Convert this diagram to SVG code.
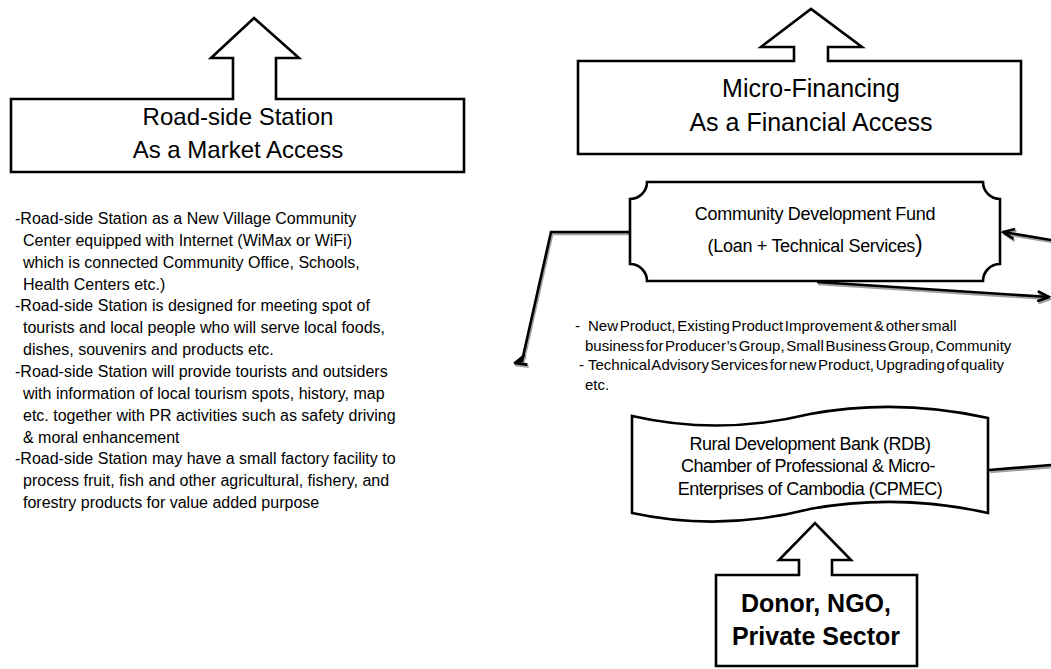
<svg xmlns="http://www.w3.org/2000/svg" width="1051" height="669" viewBox="0 0 1051 669">
  <defs>
    <style>
      .shape{fill:#fff;stroke:#000;stroke-width:2.6;stroke-linejoin:miter}
      .t{font-family:"Liberation Sans",Arial,sans-serif;fill:#000}
      .title{font-size:25px;text-anchor:middle}
      .mid{font-size:18px;text-anchor:middle;letter-spacing:-0.3px}
      .note{font-size:16px}
      .note2{font-size:15px;word-spacing:-2.5px}
      .bold{font-size:25px;font-weight:bold;text-anchor:middle}
      .conn{fill:none;stroke:#000;stroke-width:2.6}
      .shadow{fill:none;stroke:#a0a0a0;stroke-width:2.6}
    </style>
    <marker id="head" viewBox="0 0 14 12" refX="12.5" refY="6" markerWidth="14" markerHeight="12" markerUnits="userSpaceOnUse" orient="auto">
      <path d="M1,1 L12.5,6 L1,11" fill="none" stroke="#000" stroke-width="2.6"/>
    </marker>
    <marker id="headShadow" viewBox="0 0 14 12" refX="12.5" refY="6" markerWidth="14" markerHeight="12" markerUnits="userSpaceOnUse" orient="auto">
      <path d="M1,1 L12.5,6 L1,11" fill="none" stroke="#a0a0a0" stroke-width="2.6"/>
    </marker>
  </defs>

  <rect width="1051" height="669" fill="#fff"/>

  <!-- connectors -->
  <g id="connectors">
    <g transform="translate(1.2,2)">
      <polyline class="shadow" points="630,232 551,232 522,361 515,363" marker-end="url(#headShadow)"/>
      <line class="shadow" x1="1051" y1="240" x2="1003" y2="232" marker-end="url(#headShadow)"/>
      <line class="shadow" x1="817" y1="282" x2="1049" y2="297" marker-end="url(#headShadow)"/>
      <line class="shadow" x1="989" y1="470" x2="1051" y2="465"/>
    </g>
    <polyline class="conn" points="630,232 551,232 522,361 515,363" marker-end="url(#head)"/>
    <line class="conn" x1="1051" y1="240" x2="1003" y2="232" marker-end="url(#head)"/>
    <line class="conn" x1="817" y1="282" x2="1049" y2="297" marker-end="url(#head)"/>
    <line class="conn" x1="989" y1="470" x2="1051" y2="465"/>
  </g>

  <!-- market access box with up arrow -->
  <g id="road-side-station">
    <path class="shape" d="M11,99 H233 V58 H211 L254,18 L299,58 H276 V99 H464 V172 H11 Z"/>
    <text class="t" x="238" y="125" font-size="24" text-anchor="middle">Road-side Station</text>
    <text class="t" x="238" y="158" font-size="24" text-anchor="middle">As a Market Access</text>
  </g>

  <!-- financial access box with up arrow -->
  <g id="micro-financing">
    <path class="shape" d="M578,61 H794 V47 H761 L811,9 L862,47 H828 V61 H1021 V154 H578 Z"/>
    <text class="t title" x="811" y="97">Micro-Financing</text>
    <text class="t title" x="811" y="131">As a Financial Access</text>
  </g>

  <!-- plaque with concave corners -->
  <g id="community-development-fund">
    <path class="shape" d="M647,182 H983 A17,17 0 0 0 1000,199 V264 A17,17 0 0 0 983,281 H647 A17,17 0 0 0 630,264 V199 A17,17 0 0 0 647,182 Z"/>
    <text class="t mid" x="815" y="220">Community Development Fund</text>
    <text class="t mid" x="815" y="252">(Loan + Technical Services<tspan font-size="23">)</tspan></text>
  </g>

  <!-- wavy banner -->
  <g id="rural-development-bank">
    <path class="shape" d="M632,416 Q720,436 810,414 Q898,398 988,418 V513 Q898,493 810,509 Q720,532 632,513 Z"/>
    <text class="t" x="810" y="450" font-size="18" text-anchor="middle" letter-spacing="-0.5">Rural Development Bank (RDB)</text>
    <text class="t" x="808" y="472" font-size="18" text-anchor="middle" letter-spacing="-0.5">Chamber of Professional &amp; Micro-</text>
    <text class="t" x="810" y="495" font-size="18" text-anchor="middle" letter-spacing="-0.5">Enterprises of Cambodia (CPMEC)</text>
  </g>

  <!-- source box with up arrow -->
  <g id="donor-ngo">
    <path class="shape" d="M716,575 H799 V560 H779 L815,523 L851,560 H832 V575 H917 V666 H716 Z"/>
    <text class="t bold" x="816" y="612">Donor, NGO,</text>
    <text class="t bold" x="816" y="645">Private Sector</text>
  </g>

  <!-- notes under the market access box -->
  <g id="road-side-notes" class="t note">
    <text x="15" y="224">-Road-side Station as a New Village Community</text>
    <text x="23" y="245.9">Center equipped with Internet (WiMax or WiFi)</text>
    <text x="23" y="267.7">which is connected Community Office, Schools,</text>
    <text x="23" y="289.6">Health Centers etc.)</text>
    <text x="15" y="311.4">-Road-side Station is designed for meeting spot of</text>
    <text x="23" y="333.3">tourists and local people who will serve local foods,</text>
    <text x="23" y="355.1">dishes, souvenirs and products etc.</text>
    <text x="15" y="377">-Road-side Station will provide tourists and outsiders</text>
    <text x="23" y="398.8">with information of local tourism spots,  history, map</text>
    <text x="23" y="420.7">etc. together with PR activities such as safety driving</text>
    <text x="23" y="442.5">&amp; moral enhancement</text>
    <text x="15" y="464.4">-Road-side Station may have a small factory facility to</text>
    <text x="23" y="486.2">process fruit, fish and other agricultural, fishery, and</text>
    <text x="23" y="508">forestry products for value added purpose</text>
  </g>

  <!-- notes under the fund -->
  <g id="fund-notes" class="t note2">
    <text x="575" y="331">-</text>
    <text x="588" y="331">New Product, Existing Product Improvement &amp; other small</text>
    <text x="585" y="350.5">business for Producer’s Group, Small Business Group, Community</text>
    <text x="579" y="370">-</text>
    <text x="588" y="370">Technical Advisory Services for new Product, Upgrading of quality</text>
    <text x="585" y="389.5">etc.</text>
  </g>
</svg>
